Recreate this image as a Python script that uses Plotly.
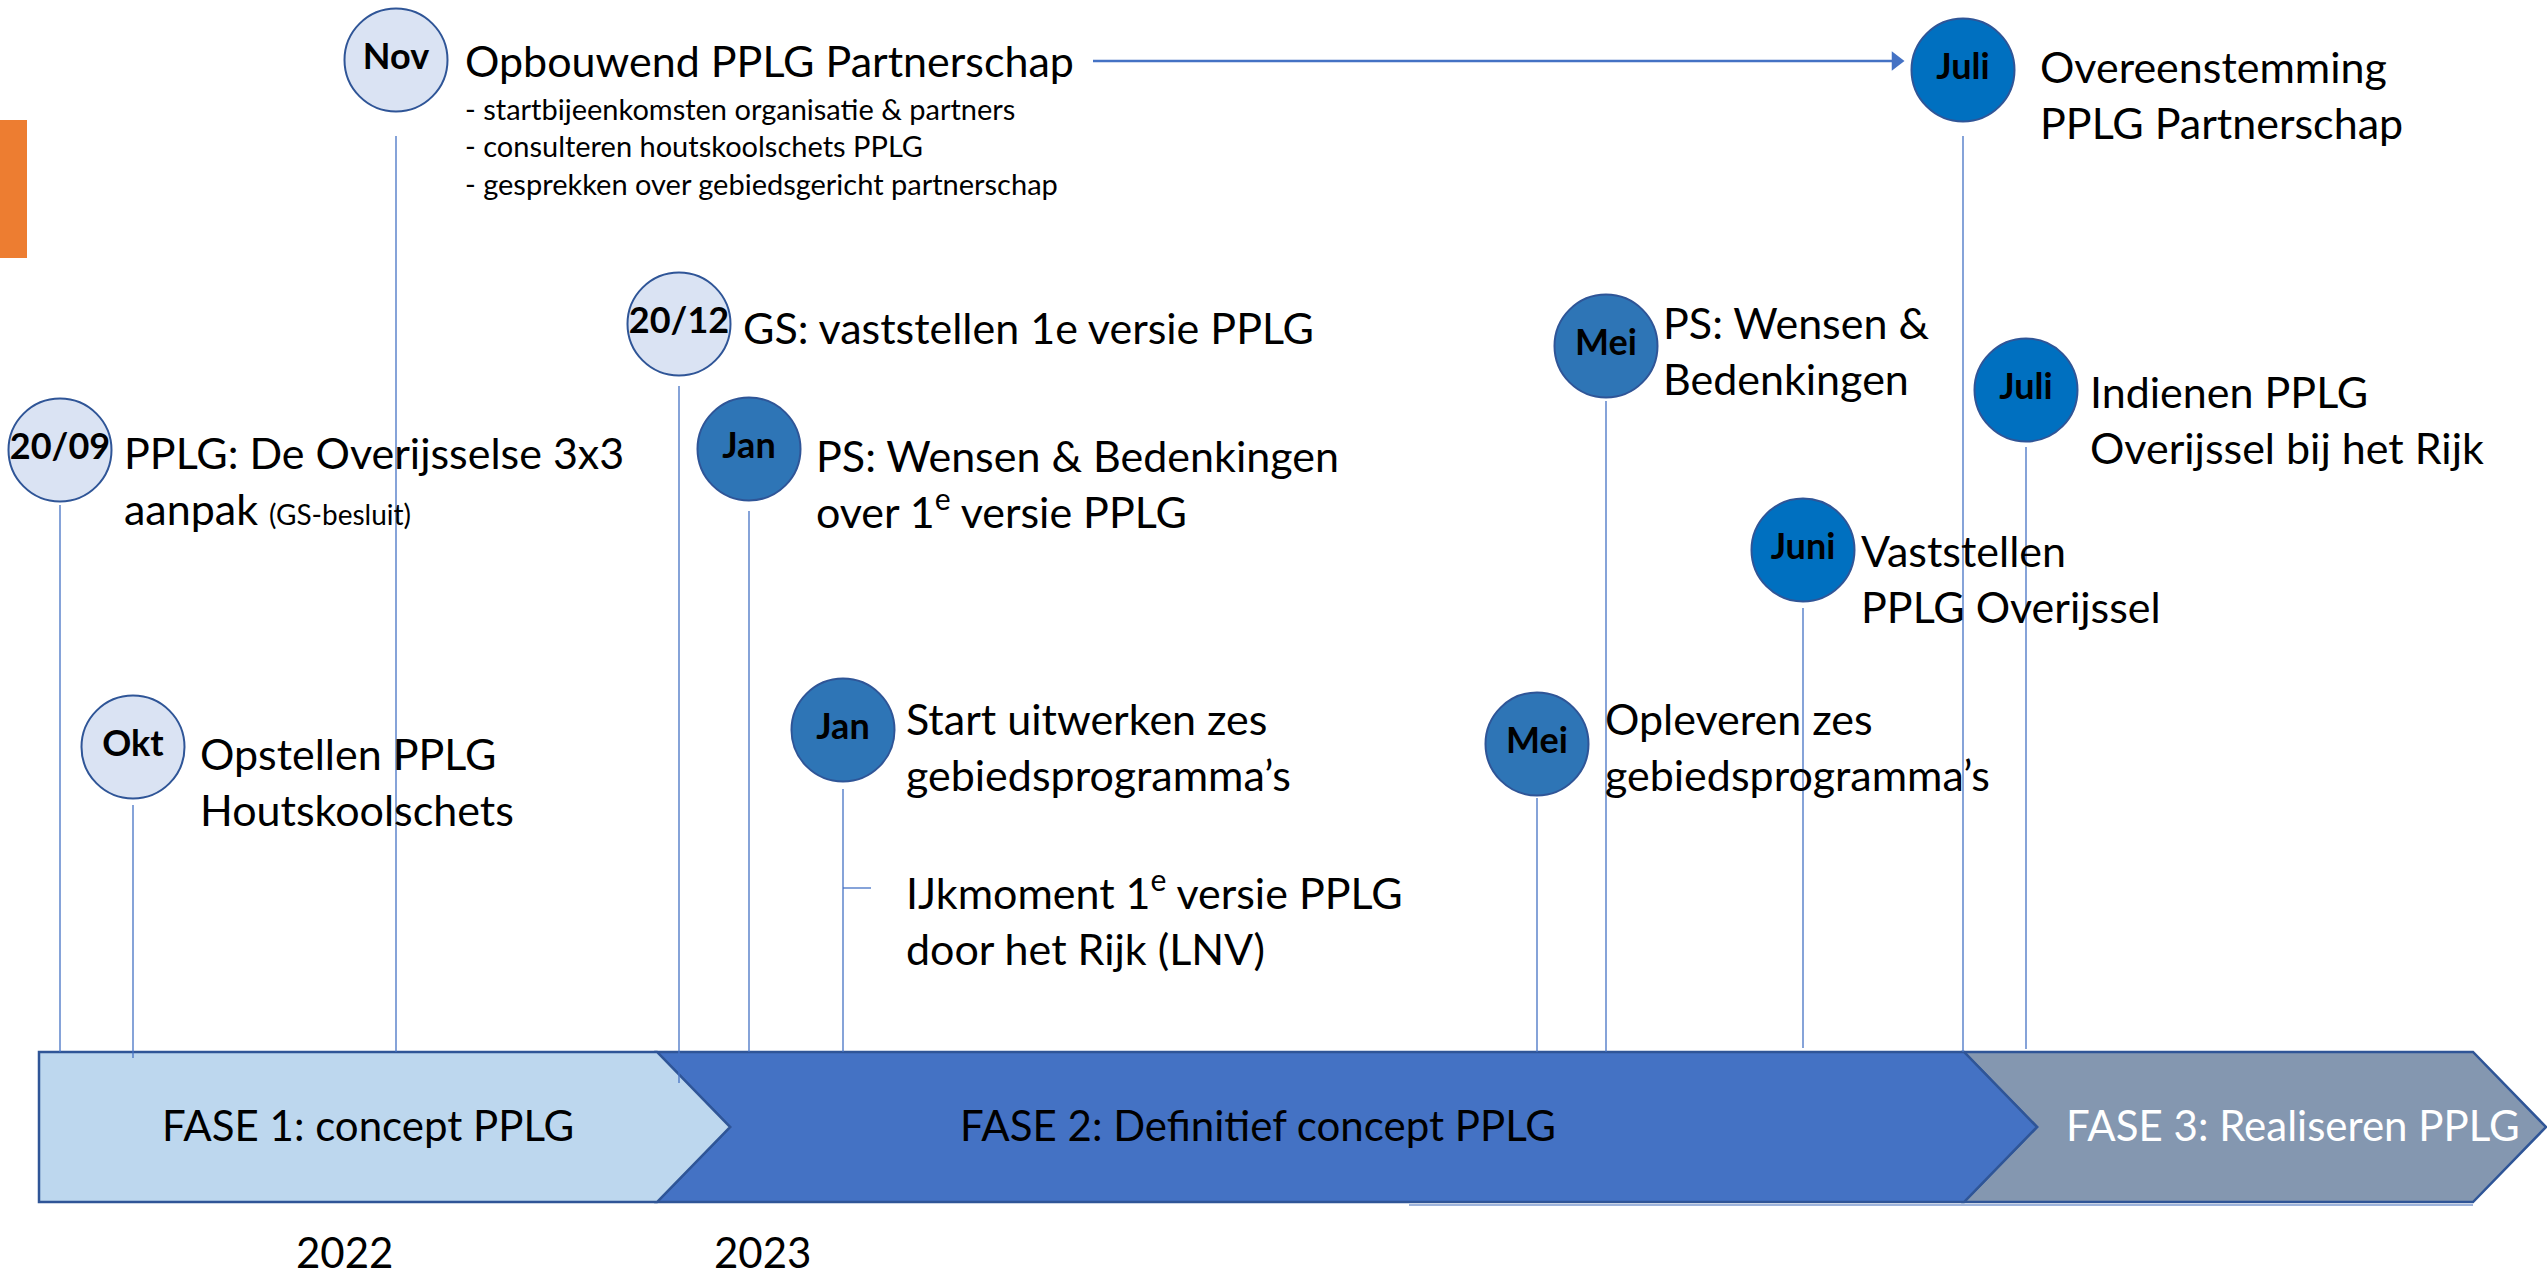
import plotly.graph_objects as go

W, H = 2547, 1282
FONT = "Lato"

# ---------------- data ----------------
ev_date = ["20/09", "Okt", "Nov", "20/12", "Jan", "Jan", "Mei", "Mei", "Juni", "Juli", "Juli"]
ev_pos = [60, 133, 396, 679, 749, 843, 1537, 1606, 1803, 1963, 2026]      # position on the timeline
ev_level = [450, 747, 60, 324, 449, 730, 744, 346, 550, 70, 390]          # row of the milestone
ev_kind = ["f1", "f1", "f1", "f1", "f2", "f2", "f2", "f2", "dec", "dec", "dec"]
ev_label = [
    "PPLG: De Overijsselse 3x3<br>aanpak <span style='font-size:28px'>(GS-besluit)</span>",
    "Opstellen PPLG<br>Houtskoolschets",
    "Opbouwend PPLG Partnerschap",
    "GS: vaststellen 1e versie PPLG",
    "PS: Wensen &amp; Bedenkingen<br>over 1<sup>e</sup> versie PPLG",
    "Start uitwerken zes<br>gebiedsprogramma’s",
    "Opleveren zes<br>gebiedsprogramma’s",
    "PS: Wensen &amp;<br>Bedenkingen",
    "Vaststellen<br>PPLG Overijssel",
    "Overeenstemming<br>PPLG Partnerschap",
    "Indienen PPLG<br>Overijssel bij het Rijk",
]
nov_bullets = [
    "- startbijeenkomsten organisatie &amp; partners",
    "- consulteren houtskoolschets PPLG",
    "- gesprekken over gebiedsgericht partnerschap",
]
ijk_label = "IJkmoment 1<sup>e</sup> versie PPLG<br>door het Rijk (LNV)"

phase_names = ["FASE 1: concept PPLG", "FASE 2: Definitief concept PPLG", "FASE 3: Realiseren PPLG"]
phase_start = [39, 657, 1964]
phase_end = [657, 1964, 2473]

years = ["2022", "2023"]
year_pos = [344, 762]

# ---------------- layout helpers (styling) ----------------
kind_fill = {"f1": "#DAE3F3", "f2": "#2E75B6", "dec": "#0070C0"}
label_dx = [62, 65, 67, 62, 65, 61, 66, 55, 56, 75, 62]
label_dy = [30, 34, 0, 3, 34, 16, 2, 4, 28, 24, 29]
stem_gap = [55, 58, 76, 62, 62, 59, 54, 55, 58, 66, 57]
stem_extra = [0, 6, 0, 31, 0, 0, 0, 0, -4, 0, -3]
phase_fill = ["#BDD7EE", "#4472C4", "#8497B0"]
phase_text_col = ["black", "black", "white"]
phase_label_x = [368, 1258, 2293]
BAR_TOP, BAR_BOT = 1052, 1202
BAR_MID = (BAR_TOP + BAR_BOT) / 2
TIP = 73
OUTLINE = "#2F5597"
ARROW_Y = 61
ARROW_FROM = 1093

fig = go.Figure()

# phases (drawn last-to-first so earlier chevron tips sit on top)
shapes = []
for i in reversed(range(len(phase_names))):
    s, e = phase_start[i], phase_end[i]
    if i == 0:
        path = f"M{s},{BAR_TOP} L{e},{BAR_TOP} L{e+TIP},{BAR_MID} L{e},{BAR_BOT} L{s},{BAR_BOT} Z"
    else:
        path = (f"M{s},{BAR_TOP} L{e},{BAR_TOP} L{e+TIP},{BAR_MID} L{e},{BAR_BOT} "
                f"L{s},{BAR_BOT} L{s+TIP},{BAR_MID} Z")
    shapes.append(dict(type="path", path=path, xref="x", yref="y", layer="below",
                       fillcolor=phase_fill[i], line=dict(color=OUTLINE, width=2.5)))
shapes.append(dict(type="line", x0=1409, x1=phase_end[2], y0=BAR_BOT + 3, y1=BAR_BOT + 3,
                   xref="x", yref="y", layer="below", line=dict(color="#9DB3DB", width=2)))
# orange side marker
shapes.append(dict(type="rect", x0=0, x1=27, y0=120, y1=258, xref="x", yref="y",
                   fillcolor="#ED7D31", line=dict(width=0), layer="below"))

# stems
sx, sy = [], []
for i in range(len(ev_date)):
    sx += [ev_pos[i], ev_pos[i], None]
    sy += [ev_level[i] + stem_gap[i], BAR_TOP + stem_extra[i], None]
# IJkmoment tick
sx += [ev_pos[5], ev_pos[5] + 28, None]
sy += [888, 888, None]
fig.add_trace(go.Scatter(x=sx, y=sy, mode="lines", line=dict(color="#4472C4", width=1.3),
                         hoverinfo="skip", showlegend=False))

# arrow from partnership start to agreement
arrow_end = ev_pos[9] - 70
fig.add_trace(go.Scatter(x=[ARROW_FROM, arrow_end], y=[ARROW_Y, ARROW_Y], mode="lines",
                         line=dict(color="#4472C4", width=2.5), hoverinfo="skip", showlegend=False))
fig.add_trace(go.Scatter(x=[arrow_end + 3], y=[ARROW_Y], mode="markers",
                         marker=dict(symbol="triangle-right", size=17, color="#4472C4",
                                     line=dict(width=0)),
                         hoverinfo="skip", showlegend=False))

# milestone circles
fig.add_trace(go.Scatter(
    x=ev_pos, y=ev_level, mode="markers+text",
    marker=dict(size=103, color=[kind_fill[k] for k in ev_kind],
                line=dict(color=OUTLINE, width=2)),
    text=[f"<b>{d}</b>" for d in ev_date], textposition="middle center",
    textfont=dict(family=FONT, size=36, color="black"),
    hoverinfo="skip", showlegend=False))

ann = []
for i in range(len(ev_date)):
    ann.append(dict(x=ev_pos[i] + label_dx[i], y=ev_level[i] + label_dy[i], text=ev_label[i],
                    xanchor="left", yanchor="middle", align="left", showarrow=False,
                    font=dict(family=FONT, size=43, color="black")))
for j, b in enumerate(nov_bullets):
    ann.append(dict(x=ev_pos[2] + label_dx[2], y=108 + 37.5 * j, text=b, xanchor="left",
                    yanchor="middle", showarrow=False,
                    font=dict(family=FONT, size=29, color="black")))
ann.append(dict(x=ev_pos[5] + label_dx[5], y=917, text=ijk_label, xanchor="left",
                yanchor="middle", align="left", showarrow=False,
                font=dict(family=FONT, size=43, color="black")))
for i, nm in enumerate(phase_names):
    ann.append(dict(x=phase_label_x[i], y=BAR_MID - 2, text=nm, showarrow=False,
                    xanchor="center", yanchor="middle",
                    font=dict(family=FONT, size=42, color=phase_text_col[i])))
for y_, p in zip(years, year_pos):
    ann.append(dict(x=p, y=1252, text=y_, showarrow=False, xanchor="center", yanchor="middle",
                    font=dict(family=FONT, size=42, color="black")))

fig.update_layout(
    width=W, height=H, margin=dict(l=0, r=0, t=0, b=0),
    paper_bgcolor="white", plot_bgcolor="white",
    xaxis=dict(range=[0, W], visible=False, fixedrange=True),
    yaxis=dict(range=[H, 0], visible=False, fixedrange=True),
    shapes=shapes, annotations=ann, showlegend=False,
)

fig.write_html("out.html", config={"displayModeBar": False},
               post_script="document.body.style.margin='0';document.body.style.overflow='hidden';")
